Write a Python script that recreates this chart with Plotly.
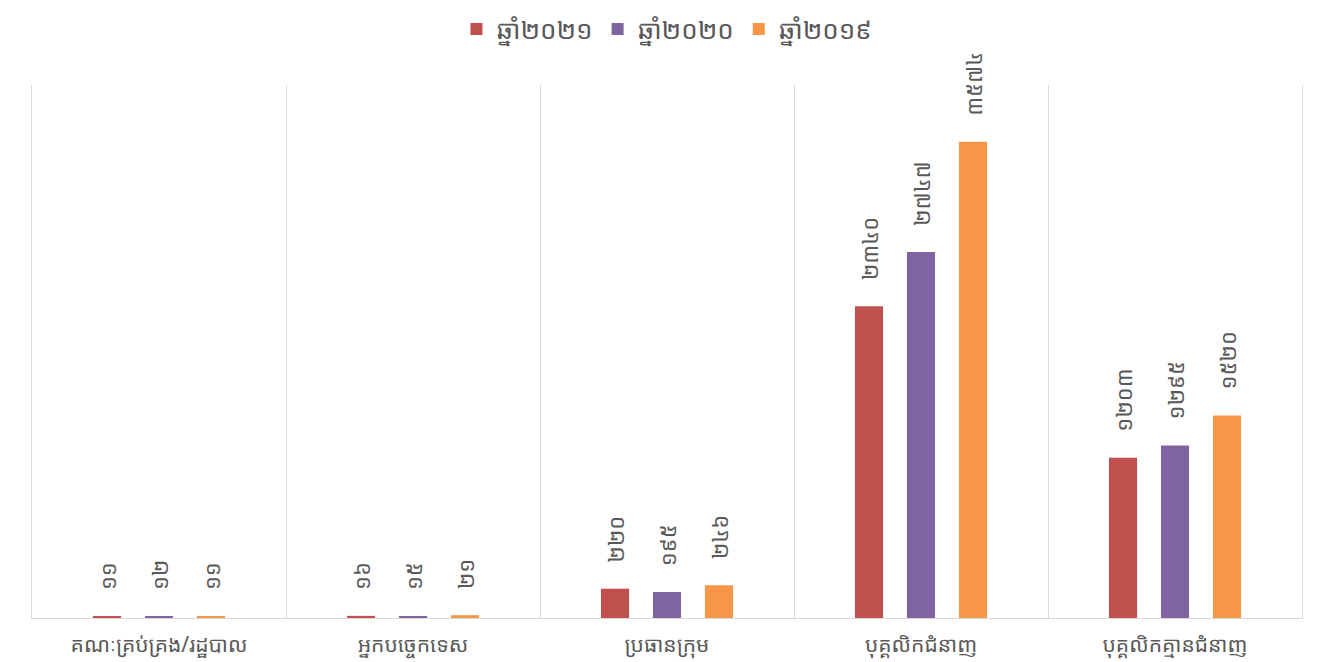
import plotly.graph_objects as go

categories = ["គណៈគ្រប់គ្រង/រដ្ឋបាល", "អ្នកបច្ចេកទេស", "ប្រធានក្រុម", "បុគ្គលិកជំនាញ", "បុគ្គលិកគ្មានជំនាញ"]
series_names = ["ឆ្នាំ២០២១", "ឆ្នាំ២០២០", "ឆ្នាំ២០១៩"]
values_2021 = [11, 16, 220, 2340, 1203]
values_2020 = [12, 15, 195, 2747, 1295]
values_2019 = [11, 21, 246, 3574, 1520]
colors = ["#C0504D", "#8064A2", "#F79646"]

KHMER_DIGITS = "០១២៣៤៥៦៧៨៩"


def to_khmer(n):
    return "".join(KHMER_DIGITS[int(d)] for d in str(n))


FONT = "Khmer OS, Noto Sans Khmer, Noto Sans, DejaVu Sans, sans-serif"
PAD = "\u00a0\u00a0\u00a0\u00a0"

fig = go.Figure()
for name, vals, col in zip(series_names, [values_2021, values_2020, values_2019], colors):
    fig.add_trace(go.Bar(
        x=categories, y=vals, name=name,
        marker=dict(color=col, line=dict(width=0)),
        text=[PAD + to_khmer(v) for v in vals],
        textposition="outside", textangle=-90, constraintext="none",
        textfont=dict(color="#595959", size=22, family=FONT),
        cliponaxis=False,
    ))

fig.update_layout(
    width=1339, height=662,
    barmode="group", bargap=0.386, bargroupgap=0.46,
    paper_bgcolor="white", plot_bgcolor="white",
    margin=dict(l=24, r=45, t=77, b=52, autoexpand=False),
    font=dict(family=FONT, color="#595959"),
    legend=dict(orientation="h", x=0.5, xanchor="center", y=1.105, yanchor="middle",
                font=dict(size=26, color="#595959", family=FONT), itemwidth=30,
                bgcolor="rgba(0,0,0,0)"),
)
fig.update_xaxes(
    type="category", tickson="boundaries", showgrid=True, gridcolor="#D9D9D9", gridwidth=1.3,
    showline=True, linecolor="#D9D9D9", linewidth=1.3, ticks="",
    tickfont=dict(size=21, color="#595959", family=FONT), automargin=False,
    ticklabelstandoff=8,
)
fig.update_yaxes(
    range=[0, 4000], showgrid=False, showticklabels=False, zeroline=False,
    showline=True, mirror=True, linecolor="#D9D9D9", linewidth=1.3, ticks="",
    automargin=False,
)

fig.write_html("out.html")
